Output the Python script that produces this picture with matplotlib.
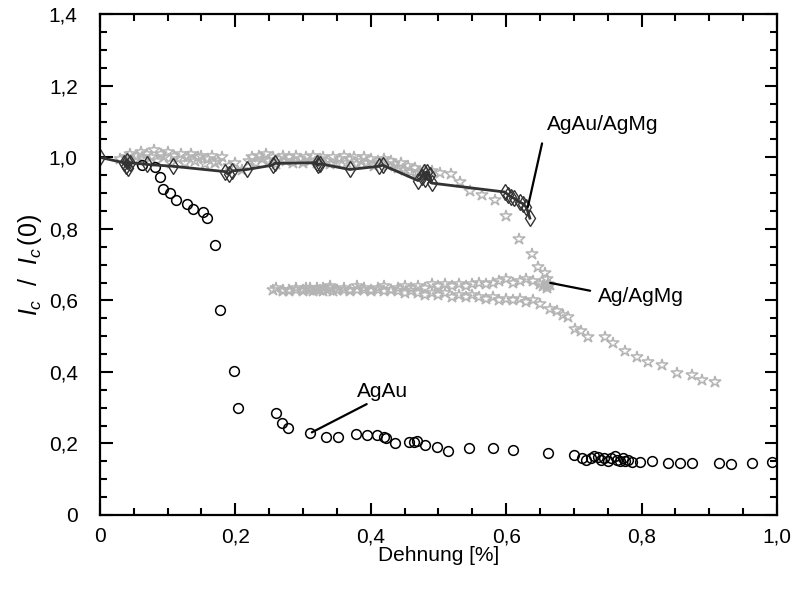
import matplotlib
matplotlib.use("Agg")
import matplotlib.pyplot as plt
from matplotlib.ticker import MultipleLocator, FuncFormatter

plt.rcParams['font.family'] = ['Liberation Sans', 'DejaVu Sans']
plt.rcParams['mathtext.fontset'] = 'custom'
plt.rcParams['mathtext.it'] = 'Liberation Sans:italic'
plt.rcParams['mathtext.rm'] = 'Liberation Sans'

# --- AgAu (open circles) ---
agau_x = [0.062, 0.082, 0.089, 0.093, 0.103, 0.112, 0.129, 0.137, 0.152, 0.158,
          0.170, 0.177, 0.198, 0.204, 0.260, 0.269, 0.278, 0.310, 0.334, 0.352,
          0.378, 0.394, 0.409, 0.419, 0.423, 0.436, 0.457, 0.464, 0.469, 0.480,
          0.498, 0.514, 0.545, 0.581, 0.610, 0.662, 0.700, 0.712, 0.718, 0.725,
          0.730, 0.735, 0.740, 0.745, 0.750, 0.755, 0.760, 0.763, 0.768, 0.772,
          0.776, 0.780, 0.786, 0.798, 0.816, 0.839, 0.857, 0.874, 0.915, 0.932,
          0.963, 0.992]
agau_y = [0.978, 0.973, 0.945, 0.912, 0.899, 0.882, 0.869, 0.855, 0.846, 0.831,
          0.754, 0.573, 0.402, 0.299, 0.285, 0.257, 0.243, 0.228, 0.217, 0.219,
          0.226, 0.225, 0.224, 0.217, 0.214, 0.202, 0.203, 0.205, 0.206, 0.196,
          0.189, 0.180, 0.186, 0.186, 0.182, 0.173, 0.168, 0.160, 0.155, 0.158,
          0.165, 0.162, 0.155, 0.160, 0.152, 0.158, 0.165, 0.155, 0.150, 0.158,
          0.152, 0.155, 0.148, 0.149, 0.151, 0.146, 0.146, 0.144, 0.144, 0.143,
          0.146, 0.147]

# --- AgAu/AgMg (diamonds with line) ---
agau_agmg_x = [0.0, 0.035, 0.038, 0.040, 0.042, 0.045, 0.070, 0.108, 0.185, 0.190,
               0.195, 0.217, 0.255, 0.258, 0.320, 0.322, 0.325, 0.369, 0.412, 0.418,
               0.470, 0.475, 0.478, 0.480, 0.483, 0.487, 0.490, 0.598, 0.603, 0.607,
               0.612, 0.620, 0.625, 0.630, 0.635]
agau_agmg_y = [1.0, 0.985, 0.975, 0.990, 0.970, 0.985, 0.980, 0.975, 0.960, 0.952,
               0.962, 0.966, 0.978, 0.983, 0.985, 0.978, 0.982, 0.966, 0.975, 0.978,
               0.935, 0.945, 0.958, 0.940, 0.960, 0.950, 0.928, 0.903, 0.895, 0.890,
               0.885, 0.875, 0.870, 0.860, 0.830]

# --- Ag/AgMg (open stars) ---
# first loading, flat band near 1.0
ag_band_x = [0.030, 0.040, 0.045, 0.050, 0.055, 0.060, 0.065, 0.070, 0.075, 0.080,
             0.085, 0.090, 0.095, 0.100, 0.105, 0.110, 0.115, 0.120, 0.125, 0.130,
             0.135, 0.140, 0.145, 0.150, 0.155, 0.160, 0.165, 0.170, 0.175, 0.180,
             0.190, 0.200, 0.210, 0.220, 0.225, 0.230, 0.235, 0.240, 0.245, 0.250,
             0.255, 0.260, 0.265, 0.270, 0.275, 0.280, 0.285, 0.290, 0.295, 0.300,
             0.305, 0.310, 0.315, 0.320, 0.325, 0.330, 0.335, 0.340, 0.345, 0.350,
             0.355, 0.360, 0.365, 0.370, 0.375, 0.380, 0.385, 0.390, 0.395, 0.400,
             0.405, 0.410, 0.415, 0.420, 0.425, 0.430, 0.435, 0.440, 0.445, 0.450,
             0.455, 0.460, 0.465, 0.470, 0.480]
ag_band_y = [0.995, 1.000, 1.010, 0.990, 1.005, 1.015, 0.995, 1.010, 1.000, 1.020,
             0.990, 1.010, 1.000, 1.015, 0.985, 1.005, 0.995, 1.010, 0.985, 1.000,
             1.010, 0.990, 1.000, 1.005, 0.980, 0.995, 1.005, 0.985, 0.990, 1.000,
             0.975, 0.985, 0.965, 0.990, 1.000, 0.985, 1.005, 0.995, 1.010, 0.990,
             1.000, 0.980, 0.995, 1.005, 0.990, 1.000, 0.985, 1.005, 0.995, 0.985,
             1.000, 0.990, 1.005, 0.985, 0.995, 1.000, 0.990, 0.980, 1.000, 0.985,
             0.995, 1.005, 0.985, 0.995, 1.000, 0.980, 0.990, 1.000, 0.985, 0.995,
             0.975, 0.990, 0.985, 0.995, 0.975, 0.990, 0.980, 0.970, 0.985, 0.965,
             0.975, 0.960, 0.970, 0.960, 0.965]
# drop after the band
ag_drop_x = [0.490, 0.502, 0.519, 0.532, 0.546, 0.564, 0.583, 0.600, 0.619, 0.638,
             0.647, 0.657, 0.660, 0.662, 0.655, 0.660, 0.665]
ag_drop_y = [0.962, 0.955, 0.952, 0.931, 0.905, 0.896, 0.880, 0.835, 0.773, 0.731,
             0.692, 0.677, 0.660, 0.645, 0.640, 0.635, 0.642]
# unloading, upper strand
ag_unload_x = [0.660, 0.650, 0.640, 0.630, 0.620, 0.610, 0.600, 0.590, 0.580, 0.570,
               0.560, 0.550, 0.540, 0.530, 0.520, 0.510, 0.500, 0.490, 0.480, 0.470,
               0.460, 0.450, 0.440, 0.430, 0.420, 0.410, 0.400, 0.390, 0.380, 0.370,
               0.360, 0.350, 0.340, 0.330, 0.320, 0.310, 0.300, 0.290, 0.280, 0.270,
               0.260, 0.255]
ag_unload_y = [0.640, 0.645, 0.655, 0.660, 0.655, 0.650, 0.660, 0.655, 0.650, 0.645,
               0.650, 0.645, 0.640, 0.645, 0.640, 0.645, 0.640, 0.645, 0.635, 0.640,
               0.635, 0.640, 0.635, 0.630, 0.640, 0.635, 0.630, 0.635, 0.640, 0.630,
               0.635, 0.630, 0.640, 0.635, 0.630, 0.635, 0.630, 0.635, 0.625, 0.630,
               0.635, 0.630]
# reloading, lower strand and tail
ag_reload_x = [0.270, 0.280, 0.290, 0.300, 0.305, 0.310, 0.315, 0.320, 0.325, 0.330,
               0.335, 0.340, 0.345, 0.350, 0.360, 0.370, 0.380, 0.390, 0.400, 0.410,
               0.420, 0.430, 0.440, 0.450, 0.460, 0.470, 0.480, 0.490, 0.500, 0.510,
               0.520, 0.530, 0.540, 0.550, 0.560, 0.570, 0.580, 0.590, 0.600, 0.610,
               0.620, 0.630, 0.640, 0.650, 0.665, 0.675, 0.684, 0.692, 0.702, 0.710,
               0.721, 0.746, 0.758, 0.775, 0.793, 0.810, 0.830, 0.852, 0.874, 0.889,
               0.908]
ag_reload_y = [0.625, 0.630, 0.630, 0.625, 0.635, 0.630, 0.625, 0.635, 0.630, 0.625,
               0.630, 0.635, 0.625, 0.630, 0.630, 0.625, 0.630, 0.630, 0.625, 0.630,
               0.625, 0.630, 0.625, 0.620, 0.625, 0.620, 0.615, 0.620, 0.615, 0.620,
               0.610, 0.615, 0.610, 0.615, 0.610, 0.605, 0.610, 0.600, 0.605, 0.600,
               0.605, 0.595, 0.600, 0.590, 0.577, 0.570, 0.559, 0.554, 0.519, 0.515,
               0.498, 0.498, 0.480, 0.459, 0.442, 0.428, 0.419, 0.396, 0.391, 0.377,
               0.372]

ag_x = ag_band_x + ag_drop_x + ag_unload_x + ag_reload_x
ag_y = ag_band_y + ag_drop_y + ag_unload_y + ag_reload_y

fig = plt.figure(figsize=(7.99, 5.94), dpi=100)
ax = fig.add_axes([0.125, 0.133, 0.8475, 0.843])

star_grey = '#b4b4b4'
dark = '#333333'

ax.plot(ag_x, ag_y, linestyle='none', marker='*', markersize=9,
        markerfacecolor='none', markeredgecolor=star_grey, markeredgewidth=1.1)
ax.plot(agau_x, agau_y, linestyle='none', marker='o', markersize=7,
        markerfacecolor='none', markeredgecolor='black', markeredgewidth=1.1)
ax.plot(agau_agmg_x, agau_agmg_y, color=dark, linewidth=2, marker='d',
        markersize=8, markerfacecolor='none', markeredgecolor=dark,
        markeredgewidth=1.0)

# labels with leader lines
ax.text(0.742, 1.092, 'AgAu/AgMg', ha='center', va='center', fontsize=15)
ax.annotate('', xy=(0.632, 0.861), xytext=(0.653, 1.039),
            arrowprops=dict(arrowstyle='-', color='black', lw=1.6,
                            shrinkA=0, shrinkB=0))
ax.text(0.736, 0.612, 'Ag/AgMg', ha='left', va='center', fontsize=15)
ax.annotate('', xy=(0.665, 0.649), xytext=(0.724, 0.627),
            arrowprops=dict(arrowstyle='-', color='black', lw=1.6,
                            shrinkA=0, shrinkB=0))
ax.text(0.418, 0.346, 'AgAu', ha='center', va='center', fontsize=15)
ax.annotate('', xy=(0.313, 0.231), xytext=(0.394, 0.310),
            arrowprops=dict(arrowstyle='-', color='black', lw=1.6,
                            shrinkA=0, shrinkB=0))

ax.set_xlim(0, 1.0)
ax.set_ylim(0, 1.4)

def comma_fmt(v, pos):
    if abs(v) < 1e-9:
        return '0'
    return f'{v:.1f}'.replace('.', ',')

ax.xaxis.set_major_locator(MultipleLocator(0.2))
ax.xaxis.set_minor_locator(MultipleLocator(0.05))
ax.yaxis.set_major_locator(MultipleLocator(0.2))
ax.yaxis.set_minor_locator(MultipleLocator(0.05))
ax.xaxis.set_major_formatter(FuncFormatter(comma_fmt))
ax.yaxis.set_major_formatter(FuncFormatter(comma_fmt))

ax.tick_params(which='both', direction='in', top=True, right=True,
               labelsize=15, width=1.5)
ax.tick_params(which='major', length=9)
ax.tick_params(which='minor', length=5)
ax.tick_params(axis='x', which='major', pad=9)
ax.tick_params(axis='y', which='major', pad=16)
for s in ax.spines.values():
    s.set_linewidth(1.6)

ax.set_xlabel('Dehnung [%]', fontsize=15, labelpad=0)
ax.set_ylabel(r'$I_c$  /  $I_c\,$(0)', fontsize=18, labelpad=3)

fig.savefig('out.png', dpi=100)
